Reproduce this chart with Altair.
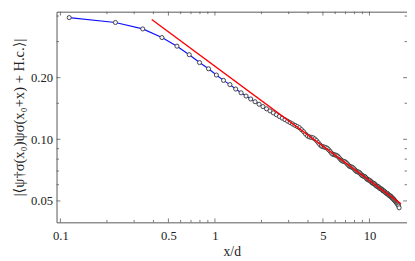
import altair as alt
import pandas as pd

# data
x_vals = [0.114, 0.227, 0.341, 0.454, 0.568, 0.682, 0.795, 0.909, 1.022, 1.136,
          1.250, 1.363, 1.477, 1.590, 1.704, 1.818, 1.931, 2.045, 2.158, 2.272,
          2.386, 2.499, 2.613, 2.726, 2.840, 2.954, 3.067, 3.181, 3.294, 3.408,
          3.522, 3.635, 3.749, 3.862, 3.976, 4.090, 4.203, 4.317, 4.430, 4.544,
          4.658, 4.771, 4.885, 4.998, 5.112, 5.226, 5.339, 5.453, 5.566, 5.680,
          5.794, 5.907, 6.021, 6.134, 6.248, 6.362, 6.475, 6.589, 6.702, 6.816,
          6.930, 7.043, 7.157, 7.270, 7.384, 7.498, 7.611, 7.725, 7.838, 7.952,
          8.066, 8.179, 8.293, 8.406, 8.520, 8.634, 8.747, 8.861, 8.974, 9.088,
          9.202, 9.315, 9.429, 9.542, 9.656, 9.770, 9.883, 9.997, 10.110, 10.224,
          10.338, 10.451, 10.565, 10.678, 10.792, 10.906, 11.019, 11.133, 11.246, 11.360,
          11.474, 11.587, 11.701, 11.814, 11.928, 12.042, 12.155, 12.269, 12.382, 12.496,
          12.610, 12.723, 12.837, 12.950, 13.064, 13.178, 13.291, 13.405, 13.518, 13.632,
          13.746, 13.859, 13.973, 14.086, 14.200, 14.314, 14.427, 14.541, 14.654, 14.768,
          14.882, 14.995, 15.109, 15.222, 15.336, 15.450, 15.563]
y_vals = [0.393, 0.372, 0.346, 0.314, 0.285, 0.259, 0.237, 0.221, 0.206, 0.194,
          0.185, 0.176, 0.1687, 0.1627, 0.1574, 0.1526, 0.1483, 0.1445, 0.1409, 0.1376,
          0.1346, 0.1318, 0.1293, 0.1269, 0.1247, 0.1226, 0.1207, 0.1188, 0.1171, 0.1155,
          0.1139, 0.1114, 0.1089, 0.1060, 0.1038, 0.1027, 0.1022, 0.1017, 0.1004, 0.0986,
          0.0964, 0.0942, 0.0927, 0.0920, 0.0916, 0.0911, 0.0903, 0.0888, 0.0873, 0.0856,
          0.0845, 0.0841, 0.0838, 0.0834, 0.0826, 0.0813, 0.0800, 0.0789, 0.0783, 0.0780,
          0.0778, 0.0771, 0.0761, 0.0750, 0.0741, 0.0735, 0.0733, 0.0731, 0.0725, 0.0717,
          0.0708, 0.0700, 0.0696, 0.0693, 0.0691, 0.0686, 0.0679, 0.0671, 0.0665, 0.0662,
          0.0660, 0.0658, 0.0653, 0.0646, 0.0639, 0.0635, 0.0633, 0.0631, 0.0628, 0.0622,
          0.0616, 0.0612, 0.0609, 0.0609, 0.0605, 0.0600, 0.0594, 0.0591, 0.0589, 0.0588,
          0.0584, 0.0579, 0.0575, 0.0574, 0.0573, 0.0569, 0.0564, 0.0560, 0.0559, 0.0557,
          0.0553, 0.0549, 0.0546, 0.0545, 0.0543, 0.0539, 0.0535, 0.0532, 0.0531, 0.0529,
          0.0527, 0.0523, 0.0519, 0.0516, 0.0514, 0.0510, 0.0507, 0.0503, 0.0500, 0.0496,
          0.0493, 0.0489, 0.0486, 0.0482, 0.0477, 0.0472, 0.0463]

fit_x = [0.39, 16.0]
fit_y = [0.385, 0.0484]

x_major = [0.1, 0.5, 1, 5, 10]
x_minor = [0.2, 0.3, 0.4, 0.6, 0.7, 0.8, 0.9, 2, 3, 4, 6, 7, 8, 9]
y_major = [0.05, 0.1, 0.2]
y_minor = [0.06, 0.07, 0.08, 0.09, 0.15, 0.3, 0.4]

W, H = 361, 217
FONT = "Liberation Serif, DejaVu Serif, serif"
FRAME = "#555555"
TEXT = "#222222"

sx = alt.Scale(type="log", domain=[0.0944, 17.5], nice=False)
sy = alt.Scale(type="log", domain=[0.0393, 0.42], nice=False)

df = pd.DataFrame({"x": x_vals, "y": y_vals})
df_fit = pd.DataFrame({"x": fit_x, "y": fit_y})
df_xmaj = pd.DataFrame({"x": x_major})
df_xmin = pd.DataFrame({"x": x_minor})
df_ymaj = pd.DataFrame({"y": y_major})
df_ymin = pd.DataFrame({"y": y_minor})

x_axis = alt.Axis(values=x_major, format="~g", ticks=False, domain=False, grid=False,
                  labelFont=FONT, labelFontSize=13, labelColor=TEXT, labelPadding=8,
                  title="x/d", titleFont=FONT, titleFontSize=14, titleFontWeight="normal",
                  titleColor=TEXT, titlePadding=2)
y_axis = alt.Axis(values=y_major, format=".2f", ticks=False, domain=False, grid=False,
                  labelFont=FONT, labelFontSize=13, labelColor=TEXT, labelPadding=4,
                  title="|⟨ψ†σ(x₀)ψσ(x₀+x) + H.c.⟩|", titleFont=FONT, titleFontSize=15,
                  titleFontWeight="normal", titleColor=TEXT, titlePadding=4)

X = alt.X("x:Q", scale=sx, axis=x_axis)
Y = alt.Y("y:Q", scale=sy, axis=y_axis)

line = alt.Chart(df).mark_line(color="#1010ff", strokeWidth=1.2).encode(x=X, y=Y)
pts = alt.Chart(df).mark_point(shape="circle", filled=True, fill="#f4f6ff", stroke="#333333",
                               strokeWidth=0.9, size=18, opacity=1).encode(x=X, y=Y)
fit = alt.Chart(df_fit).mark_line(color="#ff0000", strokeWidth=1.4).encode(x=X, y=Y)

def xticks(d, length):
    bottom = alt.Chart(d).mark_rule(color=FRAME, strokeWidth=0.8).encode(
        x=X, y=alt.value(H), y2=alt.value(H - length))
    top = alt.Chart(d).mark_rule(color=FRAME, strokeWidth=0.8).encode(
        x=X, y=alt.value(0), y2=alt.value(length))
    return [bottom, top]

def yticks(d, length):
    left = alt.Chart(d).mark_rule(color=FRAME, strokeWidth=0.8).encode(
        y=Y, x=alt.value(0), x2=alt.value(length))
    right = alt.Chart(d).mark_rule(color=FRAME, strokeWidth=0.8).encode(
        y=Y, x=alt.value(W), x2=alt.value(W - length))
    return [left, right]

layers = [line, pts, fit] + xticks(df_xmaj, 4) + xticks(df_xmin, 2.5) + yticks(df_ymaj, 4) + yticks(df_ymin, 2.5)

chart = alt.layer(*layers).properties(
    width=W, height=H,
    autosize=alt.AutoSizeParams(type="none"),
    padding={"left": 50, "top": 0, "right": 0, "bottom": 36},
).configure_view(stroke=FRAME, strokeWidth=1)

chart.save("out.html", embed_options={"renderer": "svg", "actions": False})
